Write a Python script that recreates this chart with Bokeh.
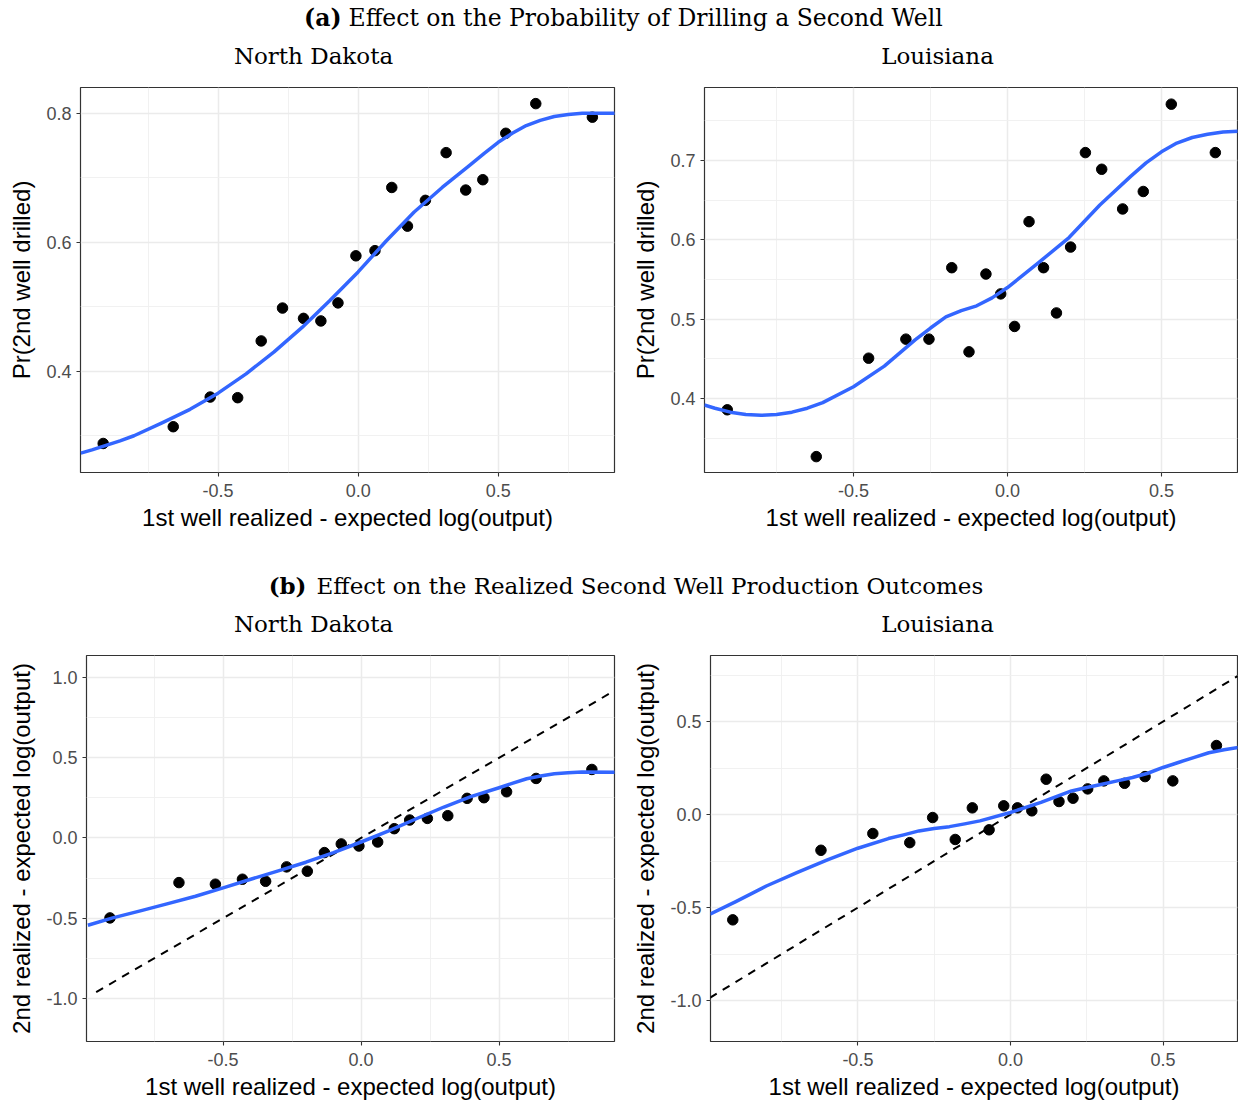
from bokeh.plotting import figure
from bokeh.layouts import column, row
from bokeh.models import FixedTicker, Range1d
from bokeh.core.properties import value
from bokeh.embed import file_html
from bokeh.resources import INLINE

# ---------------- data ----------------
# North Dakota: 1st-well residual bins
nd_x = [-0.910, -0.660, -0.528, -0.430, -0.346, -0.270, -0.195, -0.133, -0.072, -0.008,
        0.060, 0.120, 0.176, 0.240, 0.314, 0.384, 0.445, 0.527, 0.634, 0.836]
nd_prob = [0.288, 0.314, 0.360, 0.359, 0.447, 0.498, 0.482, 0.478, 0.506, 0.579,
           0.587, 0.685, 0.625, 0.665, 0.739, 0.681, 0.697, 0.769, 0.815, 0.794]
nd_out2 = [-0.498, -0.278, -0.288, -0.257, -0.270, -0.180, -0.207, -0.091, -0.037, -0.050,
           -0.025, 0.058, 0.112, 0.122, 0.139, 0.247, 0.251, 0.288, 0.371, 0.427]

# Louisiana
la_x = [-0.910, -0.621, -0.451, -0.330, -0.255, -0.181, -0.125, -0.070, -0.022, 0.023,
        0.070, 0.117, 0.159, 0.205, 0.253, 0.306, 0.374, 0.441, 0.532, 0.675]
la_prob = [0.386, 0.327, 0.451, 0.475, 0.475, 0.565, 0.459, 0.557, 0.532, 0.491,
           0.623, 0.565, 0.508, 0.591, 0.710, 0.689, 0.639, 0.661, 0.771, 0.710]
la_out2 = [-0.566, -0.192, -0.102, -0.151, -0.016, -0.134, 0.036, -0.082, 0.047, 0.036,
           0.020, 0.190, 0.070, 0.088, 0.138, 0.181, 0.168, 0.204, 0.181, 0.371]

# smoothed fits
nd_fit_x = [-0.99, -0.95, -0.9, -0.85, -0.8, -0.7, -0.6, -0.5, -0.4, -0.3, -0.2, -0.1, 0.0,
            0.1, 0.2, 0.3, 0.4, 0.45, 0.5, 0.55, 0.6, 0.65, 0.7, 0.75, 0.8, 0.92]
nd_fit_prob = [0.273, 0.278, 0.285, 0.292, 0.300, 0.320, 0.341, 0.366, 0.396, 0.430, 0.468,
               0.510, 0.554, 0.602, 0.647, 0.685, 0.720, 0.738, 0.755, 0.769, 0.781, 0.789,
               0.795, 0.798, 0.800, 0.800]
nd_fit2_x = [-0.99, -0.9, -0.8, -0.7, -0.6, -0.5, -0.4, -0.3, -0.2, -0.1, 0.0,
             0.1, 0.2, 0.3, 0.4, 0.5, 0.55, 0.6, 0.65, 0.7, 0.75, 0.8, 0.92]
nd_fit_out2 = [-0.544, -0.498, -0.454, -0.409, -0.363, -0.311, -0.257, -0.205, -0.151, -0.091,
               -0.025, 0.044, 0.120, 0.193, 0.259, 0.313, 0.342, 0.369, 0.386, 0.400, 0.407,
               0.411, 0.409]

la_fit_x = [-0.985, -0.95, -0.9, -0.85, -0.8, -0.75, -0.7, -0.65, -0.6, -0.5, -0.4, -0.3,
            -0.25, -0.2, -0.15, -0.1, -0.05, 0.0, 0.1, 0.2, 0.3, 0.4, 0.45, 0.5, 0.55, 0.6,
            0.65, 0.7, 0.75]
la_fit_prob = [0.392, 0.388, 0.383, 0.380, 0.379, 0.380, 0.383, 0.388, 0.395, 0.415, 0.441,
               0.474, 0.489, 0.503, 0.511, 0.517, 0.527, 0.540, 0.571, 0.603, 0.644, 0.680,
               0.697, 0.711, 0.722, 0.729, 0.733, 0.736, 0.737]
la_fit2_x = [-0.985, -0.9, -0.8, -0.7, -0.6, -0.5, -0.4, -0.35, -0.3, -0.25, -0.2, -0.15,
             -0.1, 0.0, 0.1, 0.2, 0.25, 0.3, 0.35, 0.4, 0.45, 0.5, 0.55, 0.6, 0.65, 0.7, 0.75]
la_fit_out2 = [-0.536, -0.468, -0.384, -0.312, -0.244, -0.181, -0.129, -0.109, -0.088, -0.075,
               -0.065, -0.050, -0.034, 0.011, 0.065, 0.127, 0.145, 0.163, 0.181, 0.199, 0.222,
               0.253, 0.280, 0.306, 0.332, 0.348, 0.362]

# 45-degree reference lines
nd_diag = [-0.96, 0.90]
la_diag = [-0.985, 0.745]

x_ticks = [-0.5, 0.0, 0.5]
x_minor = [-0.75, -0.25, 0.25, 0.75]

title_a = "Effect on the Probability of Drilling a Second Well"
title_b = "Effect on the Realized Second Well Production Outcomes"
states = ["North Dakota", "Louisiana"]
xlab = "1st well realized - expected log(output)"
ylab_a = "Pr(2nd well drilled)"
ylab_b = "2nd realized - expected log(output)"

SERIF = "DejaVu Serif"
SANS = "Liberation Sans"
BLUE = "#3366FF"


def header(h, tag, title, ty, sy, tag_right, text_left, size):
    p = figure(width=1238, height=h, x_range=Range1d(0, 1238), y_range=Range1d(h, 0),
               x_axis_type=None, y_axis_type=None, output_backend="svg",
               toolbar_location=None, min_border=0)
    p.grid.visible = False
    p.outline_line_color = None
    p.text(x=[tag_right], y=[ty], text=[tag], text_font=value(SERIF),
           text_font_size=size, text_font_style="bold", text_align="right",
           text_baseline="middle", text_color="black")
    p.text(x=[text_left], y=[ty], text=[title], text_font=value(SERIF),
           text_font_size=size, text_align="left", text_baseline="middle",
           text_color="black")
    p.text(x=[313, 937], y=[sy, sy], text=states, text_font=value(SERIF),
           text_font_size="23px", text_align="center", text_baseline="middle",
           text_color="black")
    return p


def fmt(ticks):
    return {t: f"{t:.1f}" for t in ticks}


def panel(xs, ys, fx, fy, xr, yr, yticks, yminor, ylabel, fw, fh, bl, br, bt, bb, diag=None):
    p = figure(frame_width=fw, frame_height=fh, x_range=Range1d(*xr), y_range=Range1d(*yr),
               output_backend="svg", toolbar_location=None,
               min_border_left=bl, min_border_right=br, min_border_top=bt, min_border_bottom=bb)
    p.xaxis.ticker = FixedTicker(ticks=x_ticks, minor_ticks=x_minor)
    p.yaxis.ticker = FixedTicker(ticks=yticks, minor_ticks=yminor)
    p.xaxis.major_label_overrides = fmt(x_ticks)
    p.yaxis.major_label_overrides = fmt(yticks)
    for ax in (p.xaxis, p.yaxis):
        ax.axis_line_color = None
        ax.major_tick_line_color = "#333333"
        ax.major_tick_line_width = 1.1
        ax.major_tick_out = 4
        ax.major_tick_in = 0
        ax.minor_tick_line_color = None
        ax.major_label_text_font = SANS
        ax.major_label_text_font_size = "18px"
        ax.major_label_text_color = "#4D4D4D"
        ax.axis_label_text_font = SANS
        ax.axis_label_text_font_size = "24px"
        ax.axis_label_text_font_style = "normal"
        ax.axis_label_text_color = "black"
    p.xaxis.axis_label = xlab
    p.yaxis.axis_label = ylabel
    p.xaxis.major_label_standoff = 7
    p.yaxis.major_label_standoff = 5
    p.xaxis.axis_label_standoff = 4
    p.yaxis.axis_label_standoff = 8
    p.grid.grid_line_color = "#EBEBEB"
    p.grid.grid_line_width = 1.5
    p.grid.minor_grid_line_color = "#EFEFEF"
    p.grid.minor_grid_line_width = 0.9
    p.outline_line_color = "#333333"
    p.outline_line_width = 1.2
    p.background_fill_color = "white"
    p.border_fill_color = "white"
    if diag is not None:
        p.line(diag, diag, line_color="black", line_width=2, line_dash="8 7")
    p.scatter(xs, ys, size=10.5, color="black")
    p.line(fx, fy, line_color=BLUE, line_width=3.5, line_join="round")
    return p


head_a = header(75, "(a)", title_a, 17, 55, 341, 348, "23.5px")
p1 = panel(nd_x, nd_prob, nd_fit_x, nd_fit_prob, (-0.991, 0.915), (0.243, 0.840),
           [0.4, 0.6, 0.8], [0.3, 0.5, 0.7], ylab_a, 534, 385, 80, 6, 12, 73)
p2 = panel(la_x, la_prob, la_fit_x, la_fit_prob, (-0.984, 0.747), (0.307, 0.792),
           [0.4, 0.5, 0.6, 0.7], [0.35, 0.45, 0.55, 0.65, 0.75], ylab_a, 533, 385, 84, 1, 12, 73)
head_b = header(95, "(b)", title_b, 40, 78, 306, 316, "23px")
p3 = panel(nd_x, nd_out2, nd_fit2_x, nd_fit_out2, (-0.995, 0.918), (-1.268, 1.137),
           [-1.0, -0.5, 0.0, 0.5, 1.0], [-0.75, -0.25, 0.25, 0.75], ylab_b, 528, 386, 86, 6, 15, 63,
           diag=nd_diag)
p4 = panel(la_x, la_out2, la_fit2_x, la_fit_out2, (-0.983, 0.744), (-1.220, 0.855),
           [-1.0, -0.5, 0.0, 0.5], [-0.75, -0.25, 0.25, 0.75], ylab_b, 527, 386, 90, 1, 15, 63,
           diag=la_diag)

layout = column(head_a, row(p1, p2), head_b, row(p3, p4))
open("out.html", "w").write(file_html(layout, INLINE))
